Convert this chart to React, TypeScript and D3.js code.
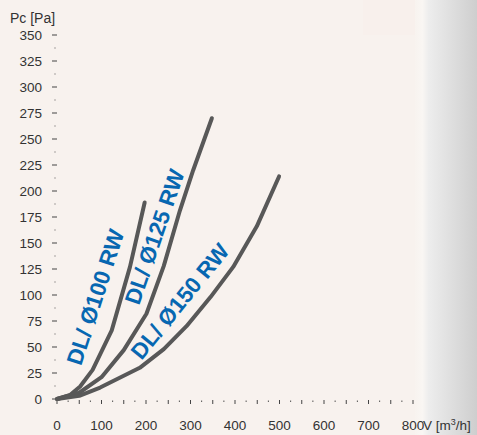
import React from "react";
import * as d3 from "d3";

const W = 477;
const H = 435;

// Data: [V m3/h, Pc Pa]
const dl100: [number, number][] = [[0, 0], [30, 4], [52, 12], [80, 28], [123, 66], [164, 127], [197, 189]];
const dl125: [number, number][] = [[0, 0], [50, 6], [100, 21], [150, 47], [201, 82], [240, 128], [276, 181], [306, 220], [348, 270]];
const dl150: [number, number][] = [[0, 0], [50, 3], [97, 11], [186, 30], [240, 48], [291, 70], [345, 98], [396, 127], [449, 166], [499, 214]];
const seriesNames = ["DL/ Ø100 RW", "DL/ Ø125 RW", "DL/ Ø150 RW"];
// label anchor points (data coords) and rotation angles
const labelAnchors: [number, number][] = [[86, 98], [219, 156], [276, 94]];
const labelAngles = [-72, -71, -51];

const yTicks = [0, 25, 50, 75, 100, 125, 150, 175, 200, 225, 250, 275, 300, 325, 350];
const xTicks = [0, 100, 200, 300, 400, 500, 600, 700, 800];

const x = d3.scaleLinear().domain([0, 800]).range([57, 413]);
const y = d3.scaleLinear().domain([0, 350]).range([399, 35]);

const font = "'Liberation Sans', Arial, sans-serif";

export default function App() {
  const line = d3
    .line<[number, number]>()
    .x((d) => x(d[0]))
    .y((d) => y(d[1]))
    .curve(d3.curveLinear);
  const series = [dl100, dl125, dl150];
  const xMinor = d3.range(0, 801, 25);
  const yMinor = d3.range(0, 351, 12.5);
  return (
    <svg width={W} height={H} style={{ position: "absolute", left: 0, top: 0 }}>
      <defs>
        <linearGradient id="side" x1="0" x2="1" y1="0" y2="0">
          <stop offset="0" stopColor="#f8f3ef" />
          <stop offset="0.12" stopColor="#f9f6f3" />
          <stop offset="0.22" stopColor="#ededed" />
          <stop offset="0.6" stopColor="#dedede" />
          <stop offset="1" stopColor="#cecece" />
        </linearGradient>
      </defs>
      <rect x={0} y={0} width={W} height={H} fill="#f8f2ee" />
      <rect x={363} y={0} width={52} height={35} fill="#f8f0ec" />
      <rect x={415} y={0} width={62} height={H} fill="url(#side)" />

      {yMinor.map((v, i) =>
        i % 2 === 0 ? (
          <line key={"ym" + i} x1={52} x2={57} y1={y(v)} y2={y(v)} stroke="#444" strokeWidth={1} />
        ) : (
          <rect key={"ym" + i} x={54.5} y={y(v) - 0.5} width={1} height={1} fill="#555" />
        )
      )}
      {xMinor.map((v, i) =>
        i % 2 === 0 ? (
          <line key={"xm" + i} x1={x(v)} x2={x(v)} y1={400} y2={404} stroke="#444" strokeWidth={1} />
        ) : (
          <rect key={"xm" + i} x={x(v) - 0.5} y={400.5} width={1} height={1.5} fill="#555" />
        )
      )}

      {yTicks.map((v) => (
        <text key={"yt" + v} x={42} y={y(v)} dy="0.35em" textAnchor="end" fontFamily={font} fontSize={13.5} fill="#333">
          {v}
        </text>
      ))}
      {xTicks.map((v) => (
        <text key={"xt" + v} x={x(v)} y={430} textAnchor="middle" fontFamily={font} fontSize={13.5} fill="#333">
          {v}
        </text>
      ))}
      <text x={10} y={23} fontFamily={font} fontSize={14} fill="#333">Pc [Pa]</text>
      <text x={423} y={430} fontFamily={font} fontSize={13.5} fill="#333">
        V [m<tspan fontSize={9} dy={-5}>3</tspan><tspan dy={5}>/h]</tspan>
      </text>

      {series.map((s, i) => (
        <path key={"s" + i} d={line(s) || ""} fill="none" stroke="#585858" strokeWidth={4} strokeLinecap="round" strokeLinejoin="round" />
      ))}

      {seriesNames.map((n, i) => (
        <text
          key={"l" + i}
          transform={`translate(${x(labelAnchors[i][0])},${y(labelAnchors[i][1])}) rotate(${labelAngles[i]})`}
          textAnchor="middle"
          dy="0.35em"
          fontFamily={font}
          fontWeight="bold"
          fontSize={22.5}
          fill="#0767b1"
        >
          {n}
        </text>
      ))}
    </svg>
  );
}
